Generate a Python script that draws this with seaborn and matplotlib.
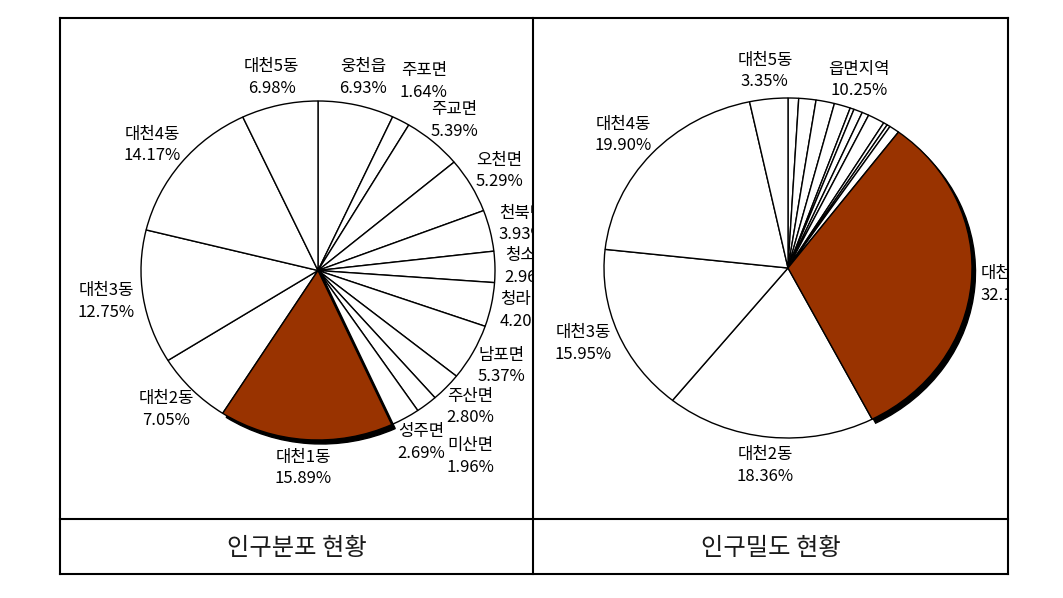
import numpy as np
import matplotlib
matplotlib.use('Agg')
import matplotlib.pyplot as plt
from matplotlib.patches import Wedge
from matplotlib.lines import Line2D
import seaborn as sns

sns.set_style('white')
plt.rcParams['font.family'] = ['Noto Sans CJK KR', 'DejaVu Sans']

# 인구분포 (%), clockwise from the top
dist_names = ['웅천읍', '주포면', '주교면', '오천면', '천북면', '청소면', '청라면', '남포면',
              '주산면', '미산면', '성주면', '대천1동', '대천2동', '대천3동', '대천4동', '대천5동']
dist_values = [6.93, 1.64, 5.39, 5.29, 3.93, 2.96, 4.20, 5.37,
               2.80, 1.96, 2.69, 15.89, 7.05, 12.75, 14.17, 6.98]

# 인구밀도 (%): 읍면 shares drawn as thin slices, one label for the group
dens_rural_names = ['웅천읍', '주포면', '주교면', '오천면', '천북면', '청소면', '청라면', '남포면',
                    '주산면', '미산면', '성주면']
dens_rural_values = [0.93, 1.51, 1.62, 1.43, 0.35, 0.77, 0.61, 1.49, 0.35, 0.29, 0.90]
dens_rural_label = '읍면지역'
dens_names = ['대천1동', '대천2동', '대천3동', '대천4동', '대천5동']
dens_values = [32.19, 18.36, 15.95, 19.90, 3.35]

titles = ['인구분포 현황', '인구밀도 현황']
highlight = '대천1동'
brown = '#993300'

W, H = 1063, 598
fig = plt.figure(figsize=(W / 100, H / 100), dpi=100)

def fx(px):
    return px / W

def fy(py):
    return 1 - py / H

# table frame
lw = 1.5
for (x0, y0, x1, y1) in [(60, 18, 1008, 18), (60, 574, 1008, 574), (60, 18, 60, 574),
                         (1008, 18, 1008, 574), (533, 18, 533, 574), (60, 519, 1008, 519)]:
    fig.add_artist(Line2D([fx(x0), fx(x1)], [fy(y0), fy(y1)], color='black', lw=lw,
                          solid_capstyle='projecting'))

fig.text(fx(296.5), fy(548), titles[0], ha='center', va='center', fontsize=17.5, color='#1a1a1a')
fig.text(fx(770.5), fy(548), titles[1], ha='center', va='center', fontsize=17.5, color='#1a1a1a')


def scales(ax):
    o = ax.transData.transform((0, 0))
    sx = ax.transData.transform((1, 0))[0] - o[0]
    sy = ax.transData.transform((0, 1))[1] - o[1]
    return sx, sy


def make_pie(cell, center, radii, values, colors):
    x0, x1 = cell
    ax = fig.add_axes([fx(x0), fy(519), fx(x1 - x0), (519 - 18) / H])
    wedges, _ = ax.pie(values, colors=colors, startangle=90, counterclock=False,
                       wedgeprops=dict(edgecolor='black', linewidth=1.0))
    ax.set_aspect('auto')
    cx, cy = center
    rx, ry = radii
    ax.set_xlim((x0 - cx) / rx, (x1 - cx) / rx)
    ax.set_ylim((cy - 519) / ry, (cy - 18) / ry)
    return ax, wedges


def add_shadow(ax, wedge, dx=3.5, dy=-4):
    sx, sy = scales(ax)
    wedge.set_zorder(3)
    ax.add_patch(Wedge((dx / sx, dy / sy), wedge.r, wedge.theta1, wedge.theta2,
                       facecolor='black', edgecolor='black', lw=1, zorder=2.5))


def place_labels(ax, items, gap=9):
    renderer = fig.canvas.get_renderer()
    sx, sy = scales(ax)
    placed = []
    # Excel-like: later slices keep their spot, earlier ones get pushed outward
    for txt, ang in items[::-1]:
        th = np.deg2rad(ang)
        c, s = np.cos(th), np.sin(th)
        t = ax.text(0, 0, txt, ha='center', va='center', fontsize=12, linespacing=1.35,
                    color='black', clip_on=True, zorder=5)
        bb = t.get_window_extent(renderer)
        g = gap
        for _ in range(80):
            t.set_position((c + (g + bb.width / 2) * c / sx,
                            s + (g + bb.height / 2) * s / sy))
            cur = t.get_window_extent(renderer).expanded(1.0, 0.96)
            if not any(cur.overlaps(p) for p in placed):
                break
            g += 2
        placed.append(t.get_window_extent(renderer).expanded(1.0, 0.96))


# left pie
colors_l = [brown if n == highlight else 'white' for n in dist_names]
ax1, w1 = make_pie((60, 533), (318, 270.5), (177, 169.5), dist_values, colors_l)
add_shadow(ax1, w1[dist_names.index(highlight)])
items = [(f'{n}\n{v:.2f}%', (w.theta1 + w.theta2) / 2)
         for n, v, w in zip(dist_names, dist_values, w1)]
place_labels(ax1, items)

# right pie
vals_r = dens_rural_values + dens_values
colors_r = ['white'] * len(dens_rural_values) + \
           [brown if n == highlight else 'white' for n in dens_names]
ax2, w2 = make_pie((533, 1008), (788, 268), (184, 170), vals_r, colors_r)
k = len(dens_rural_values)
add_shadow(ax2, w2[k + dens_names.index(highlight)])
grp = w2[:k]
grp_ang = (max(w.theta2 for w in grp) + min(w.theta1 for w in grp)) / 2
items = [(f'{dens_rural_label}\n{sum(dens_rural_values):.2f}%', grp_ang)]
items += [(f'{n}\n{v:.2f}%', (w.theta1 + w.theta2) / 2)
          for n, v, w in zip(dens_names, dens_values, w2[k:])]
place_labels(ax2, items)

fig.savefig('out.png', dpi=100)
